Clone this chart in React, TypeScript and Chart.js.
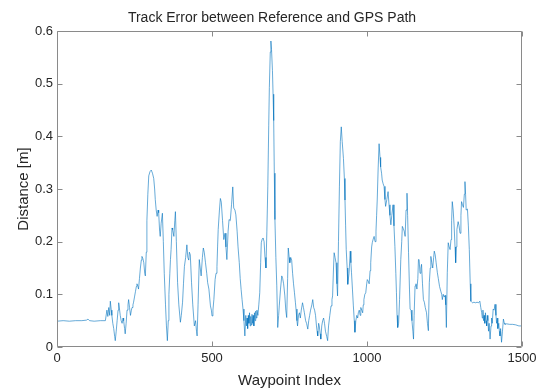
import React, { useEffect, useRef } from "react";
import { Chart, registerables } from "chart.js";

Chart.register(...registerables);

const chartTitle = "Track Error between Reference and GPS Path";
const xAxisLabel = "Waypoint Index";
const yAxisLabel = "Distance [m]";

const xTickValues = [0, 500, 1000, 1500];
const xTickLabels = ["0", "500", "1000", "1500"];
const yTickValues = [0, 0.1, 0.2, 0.3, 0.4, 0.5, 0.6];
const yTickLabels = ["0", "0.1", "0.2", "0.3", "0.4", "0.5", "0.6"];

const waypointIndex = [
  0, 20, 40, 60, 80, 95, 100, 105, 120, 140, 156,
  161, 164, 167, 170, 172, 175, 177, 180, 183, 186, 188, 191, 194, 197, 199,
  202, 204, 207, 210, 213, 215, 218, 220, 223, 226, 229, 231, 234, 237, 240,
  242, 245, 247, 250, 253, 256, 258, 261, 263, 266, 269, 272, 274, 277, 280,
  283, 285, 288, 290, 293, 296, 300, 304, 308, 312, 315, 317, 320, 323, 326,
  328, 331, 333, 336, 340, 343, 346, 350, 353, 356, 359, 361, 364, 366, 368,
  371, 373, 377, 380, 382, 385, 389, 393, 398, 401, 405, 408, 411, 415, 419,
  422, 425, 427, 430, 434, 438, 443, 447, 450, 452, 455, 459, 462, 465, 469,
  472, 475, 479, 483, 486, 490, 495, 498, 500, 503, 506, 510, 513, 516, 518,
  520, 524, 527, 530, 534, 538, 542, 545, 548, 552, 555, 559, 563, 567, 570,
  574, 577, 581, 584, 588, 591, 594, 597, 600, 603, 606,
  609, 611, 613, 615, 617, 619, 621, 623, 625, 627, 629, 631, 633, 635, 637,
  639, 641, 643, 645, 648, 651, 654, 657, 659, 662, 665, 668, 671, 674, 677,
  680, 683, 685, 688, 690, 692, 695, 697, 699, 701, 703, 706, 709, 712, 715,
  717, 721, 725, 728, 731, 735, 738, 741, 744, 746, 749, 751, 754, 757, 760,
  763, 766, 769, 771, 774, 776, 779, 782, 785, 788, 792, 795, 798, 802, 805,
  809, 812, 815, 818, 822, 825, 828, 831, 834, 837, 839, 841, 844, 846, 849,
  851, 854, 857, 860, 863, 866, 870, 873, 876, 880, 884, 887, 889, 892, 894,
  897, 900, 903, 905, 908, 911, 914, 917, 920, 924, 927, 929, 931, 933, 936,
  938, 942, 946, 948, 950, 953, 956, 959, 961, 964, 967, 970, 972, 975, 978,
  980, 983, 986, 988, 990, 993, 996, 999, 1001, 1004, 1007, 1010, 1012, 1015, 1017,
  1020, 1023, 1026, 1029, 1031, 1033, 1036, 1039, 1042, 1044, 1047, 1049, 1052, 1055, 1058,
  1060, 1064, 1068, 1071, 1074, 1077, 1080, 1084, 1087, 1090, 1093, 1095, 1097, 1099, 1102,
  1105, 1109, 1112, 1114, 1117, 1120, 1123, 1126, 1129, 1131, 1134, 1137, 1139, 1142, 1145,
  1148, 1150, 1152, 1155, 1158, 1161, 1164, 1166, 1168, 1171, 1174, 1176, 1179, 1182, 1185,
  1188, 1192, 1195, 1198, 1201, 1204, 1206, 1209, 1212, 1215, 1217, 1220, 1223, 1227, 1230,
  1234, 1238, 1241, 1243, 1246, 1249, 1252, 1254, 1256, 1259, 1262, 1265, 1268, 1271, 1273,
  1275, 1278, 1281, 1284, 1286, 1288, 1290, 1294, 1297, 1300, 1303, 1305, 1308, 1311, 1314,
  1316, 1318, 1320, 1324, 1327, 1330, 1333, 1335, 1338, 1340, 1345, 1350, 1355, 1360, 1364,
  1367, 1370, 1372, 1374, 1376, 1378, 1380, 1382, 1384, 1386, 1388, 1390, 1392, 1394, 1397,
  1400, 1402, 1404, 1407, 1410, 1413, 1416, 1418, 1420, 1422, 1425, 1427, 1429, 1431, 1434,
  1437, 1440, 1443, 1445, 1450, 1460, 1470, 1480, 1490, 1500,
];

const trackError = [
  0.049, 0.05, 0.049, 0.05, 0.05, 0.051, 0.053, 0.05, 0.049, 0.05, 0.05,
  0.07, 0.058, 0.075, 0.06, 0.087, 0.07, 0.06, 0.045, 0.035, 0.02, 0.012, 0.03, 0.05, 0.07, 0.084,
  0.07, 0.06, 0.05, 0.045, 0.055, 0.05, 0.035, 0.025, 0.045, 0.07, 0.08, 0.09, 0.075, 0.06, 0.07,
  0.075, 0.08, 0.085, 0.095, 0.105, 0.115, 0.12, 0.115, 0.11, 0.13, 0.15, 0.165, 0.172, 0.168, 0.16,
  0.14, 0.135, 0.18, 0.24, 0.29, 0.325, 0.333, 0.336, 0.33, 0.32, 0.3, 0.28, 0.26, 0.248, 0.26,
  0.255, 0.22, 0.21, 0.235, 0.254, 0.2, 0.14, 0.08, 0.04, 0.012, 0.05, 0.1, 0.14, 0.166, 0.185,
  0.226, 0.223, 0.21, 0.24, 0.257, 0.2, 0.122, 0.08, 0.047, 0.06, 0.085, 0.12, 0.153, 0.17, 0.194,
  0.17, 0.165, 0.18, 0.175, 0.122, 0.08, 0.04, 0.05, 0.03, 0.021, 0.08, 0.166, 0.15, 0.135, 0.17,
  0.188, 0.18, 0.16, 0.14, 0.122, 0.11, 0.078, 0.07, 0.059, 0.07, 0.09, 0.128, 0.14, 0.153, 0.19,
  0.223, 0.26, 0.282, 0.275, 0.24, 0.204, 0.216, 0.19, 0.166, 0.22, 0.242, 0.24, 0.27, 0.304, 0.264,
  0.26, 0.251, 0.22, 0.19, 0.16, 0.13, 0.109, 0.09, 0.072, 0.05, 0.021,
  0.06, 0.04, 0.055, 0.035, 0.06, 0.045, 0.065, 0.04, 0.058, 0.042, 0.062, 0.045, 0.06, 0.04, 0.065,
  0.05, 0.068, 0.055, 0.07, 0.06, 0.08, 0.103, 0.16, 0.198, 0.205, 0.207, 0.2, 0.17, 0.15, 0.22,
  0.304, 0.42, 0.493, 0.56, 0.581, 0.565, 0.525, 0.48, 0.43, 0.33, 0.242, 0.17, 0.116, 0.037, 0.06,
  0.078, 0.11, 0.135, 0.13, 0.12, 0.097, 0.07, 0.056, 0.13, 0.188, 0.17, 0.16, 0.17, 0.165, 0.14,
  0.12, 0.103, 0.085, 0.072, 0.05, 0.04, 0.06, 0.065, 0.055, 0.07, 0.084, 0.075, 0.065, 0.05, 0.045,
  0.034, 0.05, 0.06, 0.07, 0.08, 0.09, 0.075, 0.07, 0.06, 0.04, 0.03, 0.021, 0.045, 0.04, 0.025,
  0.015, 0.04, 0.05, 0.055, 0.045, 0.03, 0.02, 0.012, 0.04, 0.06, 0.078, 0.09, 0.097, 0.15, 0.179,
  0.17, 0.16, 0.12, 0.097, 0.2, 0.304, 0.39, 0.418, 0.39, 0.358, 0.32, 0.279, 0.23, 0.185, 0.15,
  0.119, 0.14, 0.182, 0.16, 0.141, 0.11, 0.078, 0.05, 0.028, 0.05, 0.06, 0.055, 0.065, 0.07, 0.06,
  0.075, 0.07, 0.065, 0.08, 0.09, 0.1, 0.103, 0.12, 0.128, 0.125, 0.12, 0.145, 0.16, 0.19, 0.198,
  0.205, 0.21, 0.2, 0.22, 0.25, 0.279, 0.34, 0.386, 0.36, 0.342, 0.33, 0.317, 0.31, 0.305, 0.28,
  0.267, 0.28, 0.295, 0.27, 0.25, 0.232, 0.25, 0.27, 0.23, 0.191, 0.14, 0.103, 0.06, 0.037, 0.045,
  0.09, 0.166, 0.2, 0.229, 0.225, 0.22, 0.21, 0.26, 0.292, 0.25, 0.179, 0.11, 0.072, 0.07, 0.05,
  0.03, 0.015, 0.06, 0.116, 0.12, 0.11, 0.13, 0.166, 0.166, 0.14, 0.15, 0.157, 0.12, 0.09, 0.085,
  0.075, 0.065, 0.045, 0.031, 0.122, 0.15, 0.172, 0.16, 0.15, 0.17, 0.182, 0.175, 0.16, 0.141, 0.13,
  0.115, 0.106, 0.1, 0.09, 0.1, 0.095, 0.098, 0.08, 0.037, 0.141, 0.198, 0.19, 0.185, 0.204, 0.24,
  0.276, 0.26, 0.23, 0.19, 0.16, 0.19, 0.223, 0.238, 0.23, 0.216, 0.25, 0.276, 0.27, 0.265, 0.29,
  0.314, 0.29, 0.26, 0.262, 0.23, 0.185, 0.12, 0.087, 0.085, 0.084, 0.085, 0.084, 0.085, 0.084, 0.087,
  0.075, 0.065, 0.055, 0.07, 0.05, 0.06, 0.045, 0.065, 0.05, 0.04, 0.06, 0.05, 0.03, 0.045, 0.015,
  0.04, 0.055, 0.045, 0.072, 0.07, 0.081, 0.06, 0.045, 0.055, 0.035, 0.045, 0.03, 0.021, 0.035, 0.009,
  0.03, 0.053, 0.045, 0.043, 0.044, 0.043, 0.043, 0.042, 0.04, 0.04,
];

const lineColor = "#0072BD";
const axisColor = "#8a8a8a";
const textColor = "#262626";
const fontFamily = "'Liberation Sans', Arial, Helvetica, sans-serif";

const matlabAxes = {
  id: "matlabAxes",
  afterDatasetsDraw(chart: any) {
    const { ctx, chartArea } = chart;
    const xs = chart.scales.x;
    const ys = chart.scales.y;
    const l = Math.round(chartArea.left) + 0.5;
    const r = Math.round(chartArea.right) - 0.5;
    const t = Math.round(chartArea.top) + 0.5;
    const b = Math.round(chartArea.bottom) - 0.5;
    const tick = 5;
    ctx.save();
    ctx.strokeStyle = axisColor;
    ctx.lineWidth = 1;
    ctx.beginPath();
    ctx.rect(l, t, r - l, b - t);
    for (const v of xTickValues) {
      const px = Math.round(xs.getPixelForValue(v)) + 0.5;
      ctx.moveTo(px, b);
      ctx.lineTo(px, b - tick);
      ctx.moveTo(px, t);
      ctx.lineTo(px, t + tick);
    }
    for (const v of yTickValues) {
      const py = Math.round(ys.getPixelForValue(v)) + 0.5;
      ctx.moveTo(l, py);
      ctx.lineTo(l + tick, py);
      ctx.moveTo(r, py);
      ctx.lineTo(r - tick, py);
    }
    ctx.stroke();
    ctx.restore();
  },
};

export default function App() {
  const canvasRef = useRef<HTMLCanvasElement | null>(null);

  useEffect(() => {
    document.body.style.margin = "0";
    const canvas = canvasRef.current;
    if (!canvas) return;
    const points = waypointIndex.map((wp, i) => ({ x: wp, y: trackError[i] }));
    const chart = new Chart(canvas, {
      type: "line",
      data: {
        datasets: [
          {
            data: points,
            borderColor: lineColor,
            borderWidth: 0.6,
            pointRadius: 0,
            tension: 0,
            fill: false,
          },
        ],
      },
      options: {
        animation: false,
        responsive: true,
        maintainAspectRatio: false,
        layout: { padding: 0 },
        plugins: {
          legend: { display: false },
          tooltip: { enabled: false },
          title: {
            display: true,
            text: chartTitle,
            color: textColor,
            font: { family: fontFamily, size: 14, weight: "normal", lineHeight: "16px" },
            padding: { top: 10, bottom: 5 },
          },
        },
        scales: {
          x: {
            type: "linear",
            min: 0,
            max: 1500,
            afterBuildTicks: (scale: any) => {
              scale.ticks = xTickValues.map((v) => ({ value: v }));
            },
            afterFit: (scale: any) => {
              scale.height = 42;
            },
            grid: { display: false, drawTicks: false, tickLength: 0 },
            border: { display: false },
            ticks: {
              color: textColor,
              font: { family: fontFamily, size: 13 },
              padding: 4,
              maxRotation: 0,
              callback: (v: any) => {
                const i = xTickValues.indexOf(Number(v));
                return i >= 0 ? xTickLabels[i] : "";
              },
            },
            title: {
              display: true,
              text: xAxisLabel,
              color: textColor,
              font: { family: fontFamily, size: 15, lineHeight: "17px" },
              padding: { top: 0, bottom: 0 },
            },
          },
          y: {
            type: "linear",
            min: 0,
            max: 0.6,
            afterBuildTicks: (scale: any) => {
              scale.ticks = yTickValues.map((v) => ({ value: v }));
            },
            afterFit: (scale: any) => {
              scale.width = 57;
            },
            grid: { display: false, drawTicks: false, tickLength: 0 },
            border: { display: false },
            ticks: {
              color: textColor,
              font: { family: fontFamily, size: 13 },
              padding: 4,
              callback: (v: any) => {
                const i = yTickValues.findIndex((t) => Math.abs(t - Number(v)) < 1e-9);
                return i >= 0 ? yTickLabels[i] : "";
              },
            },
            title: {
              display: true,
              text: yAxisLabel,
              color: textColor,
              font: { family: fontFamily, size: 15, lineHeight: "17px" },
              padding: { top: 15, bottom: 0 },
            },
          },
          yRight: {
            type: "linear",
            position: "right",
            display: true,
            min: 0,
            max: 0.6,
            afterFit: (scale: any) => {
              scale.width = 22;
            },
            grid: { display: false, drawTicks: false, tickLength: 0 },
            border: { display: false },
            ticks: { display: false },
            title: { display: false },
          },
        },
      },
      plugins: [matlabAxes],
    });
    return () => chart.destroy();
  }, []);

  return (
    <div style={{ position: "fixed", left: 0, top: 0, width: 544, height: 389, background: "#fff" }}>
      <canvas ref={canvasRef} />
    </div>
  );
}
